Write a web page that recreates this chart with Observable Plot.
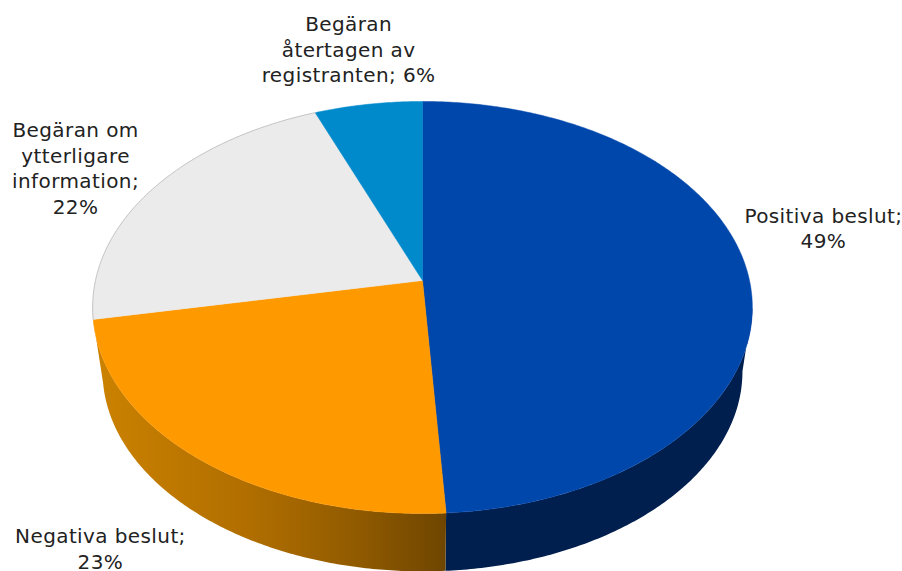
<!DOCTYPE html>
<html>
<head>
<meta charset="utf-8">
<script src="https://cdn.jsdelivr.net/npm/d3@7"></script>
<script src="https://cdn.jsdelivr.net/npm/@observablehq/plot@0.6"></script>
<style>
html,body{margin:0;padding:0;background:#fff}
svg{display:block}
</style>
</head>
<body>
<div id="chart"></div>
<script>
// Chart data
const categories = ["Positiva beslut", "Negativa beslut", "Begäran om ytterligare information", "Begäran återtagen av registranten"];
const shares = [49, 23, 22, 6];
const labels = ["Positiva beslut;\n49%", "Negativa beslut;\n23%", "Begäran om\nytterligare\ninformation;\n22%", "Begäran\nåtertagen av\nregistranten; 6%"];

// Appearance
const topColors = ["#0047AB", "#FF9900", "#EBEBEB", "#008ACC"];
const wallColors = ["#001F4F", "url(#wallOrange)", "none", "none"];
const labelX = [1.226, -0.985, -1.061, -0.226];
const labelY = [-0.262, 1.32, -0.558, -1.146];

// Disc projection: perspective view of a unit circle
const K = 0.131;
const project = (t, scale = 1, drop = 0) => {
  const d = 1 + K * Math.cos(t);
  return {x: scale * Math.sin(t) / d, y: drop - scale * Math.cos(t) / d};
};
const WALL_SCALE = 0.97, WALL_DROP = 0.32;
const RIGHT_EXTREME = Math.acos(-K), FULL = 2 * Math.PI;

const total = d3.sum(shares);
const cum = d3.cumsum(shares);
const angle = (v) => (v / total) * FULL;
const arc = (a, b) => {
  const n = Math.max(2, Math.ceil(Math.abs(b - a) / 0.01));
  return d3.range(n + 1).map((i) => a + ((b - a) * i) / n);
};

const slices = categories.flatMap((c, i) => {
  const a = angle(i ? cum[i - 1] : 0), b = angle(cum[i]);
  return [{x: 0, y: 0, c}, ...arc(a, b).map((t) => ({...project(t), c})), {x: 0, y: 0, c}];
});
const walls = categories.flatMap((c, i) => {
  if (wallColors[i] === "none") return [];
  const a = Math.max(angle(i ? cum[i - 1] : 0), RIGHT_EXTREME), b = angle(cum[i]);
  return [
    ...arc(a, b).map((t) => ({...project(t), c})),
    ...arc(b, a).map((t) => ({...project(t, WALL_SCALE, WALL_DROP), c}))
  ];
});
const rim = arc(angle(cum[1]), angle(cum[2])).map((t) => project(t));

const gradient = () => {
  const defs = d3.create("svg:defs");
  const g = defs.append("linearGradient").attr("id", "wallOrange").attr("x1", 0).attr("x2", 1).attr("y1", 0).attr("y2", 0);
  [[0, "#CC8200"], [0.45, "#B06E00"], [0.75, "#905A00"], [1, "#6E4500"]].forEach(([o, col]) =>
    g.append("stop").attr("offset", o).attr("stop-color", col));
  return defs.node();
};

const pxX = 327, pxY = 202.5;
const chart = Plot.plot({
  width: 902,
  height: 571,
  margin: 0,
  style: {letterSpacing: "0.4px"},
  x: {domain: [-422 / pxX, 480 / pxX], range: [0, 902], axis: null},
  y: {domain: [-280 / pxY, 291 / pxY], range: [0, 571], axis: null},
  marks: [
    gradient,
    ...categories.map((c, i) => wallColors[i] === "none" ? null :
      Plot.line(walls.filter((d) => d.c === c), {x: "x", y: "y", fill: wallColors[i], stroke: "none"})),
    ...categories.map((c, i) =>
      Plot.line(slices.filter((d) => d.c === c), {x: "x", y: "y", fill: topColors[i], stroke: topColors[i], strokeWidth: 0.5})),
    Plot.line(rim, {x: "x", y: "y", stroke: "#c4c4c4", strokeWidth: 1}),
    Plot.text(labels, {
      x: (d, i) => labelX[i],
      y: (d, i) => labelY[i],
      text: (d) => d,
      fontSize: 20,
      fontFamily: "DejaVu Sans",
      lineHeight: 1.28,
      fill: "#222222",
      textAnchor: "middle"
    })
  ]
});
document.getElementById("chart").append(chart);
</script>
</body>
</html>
